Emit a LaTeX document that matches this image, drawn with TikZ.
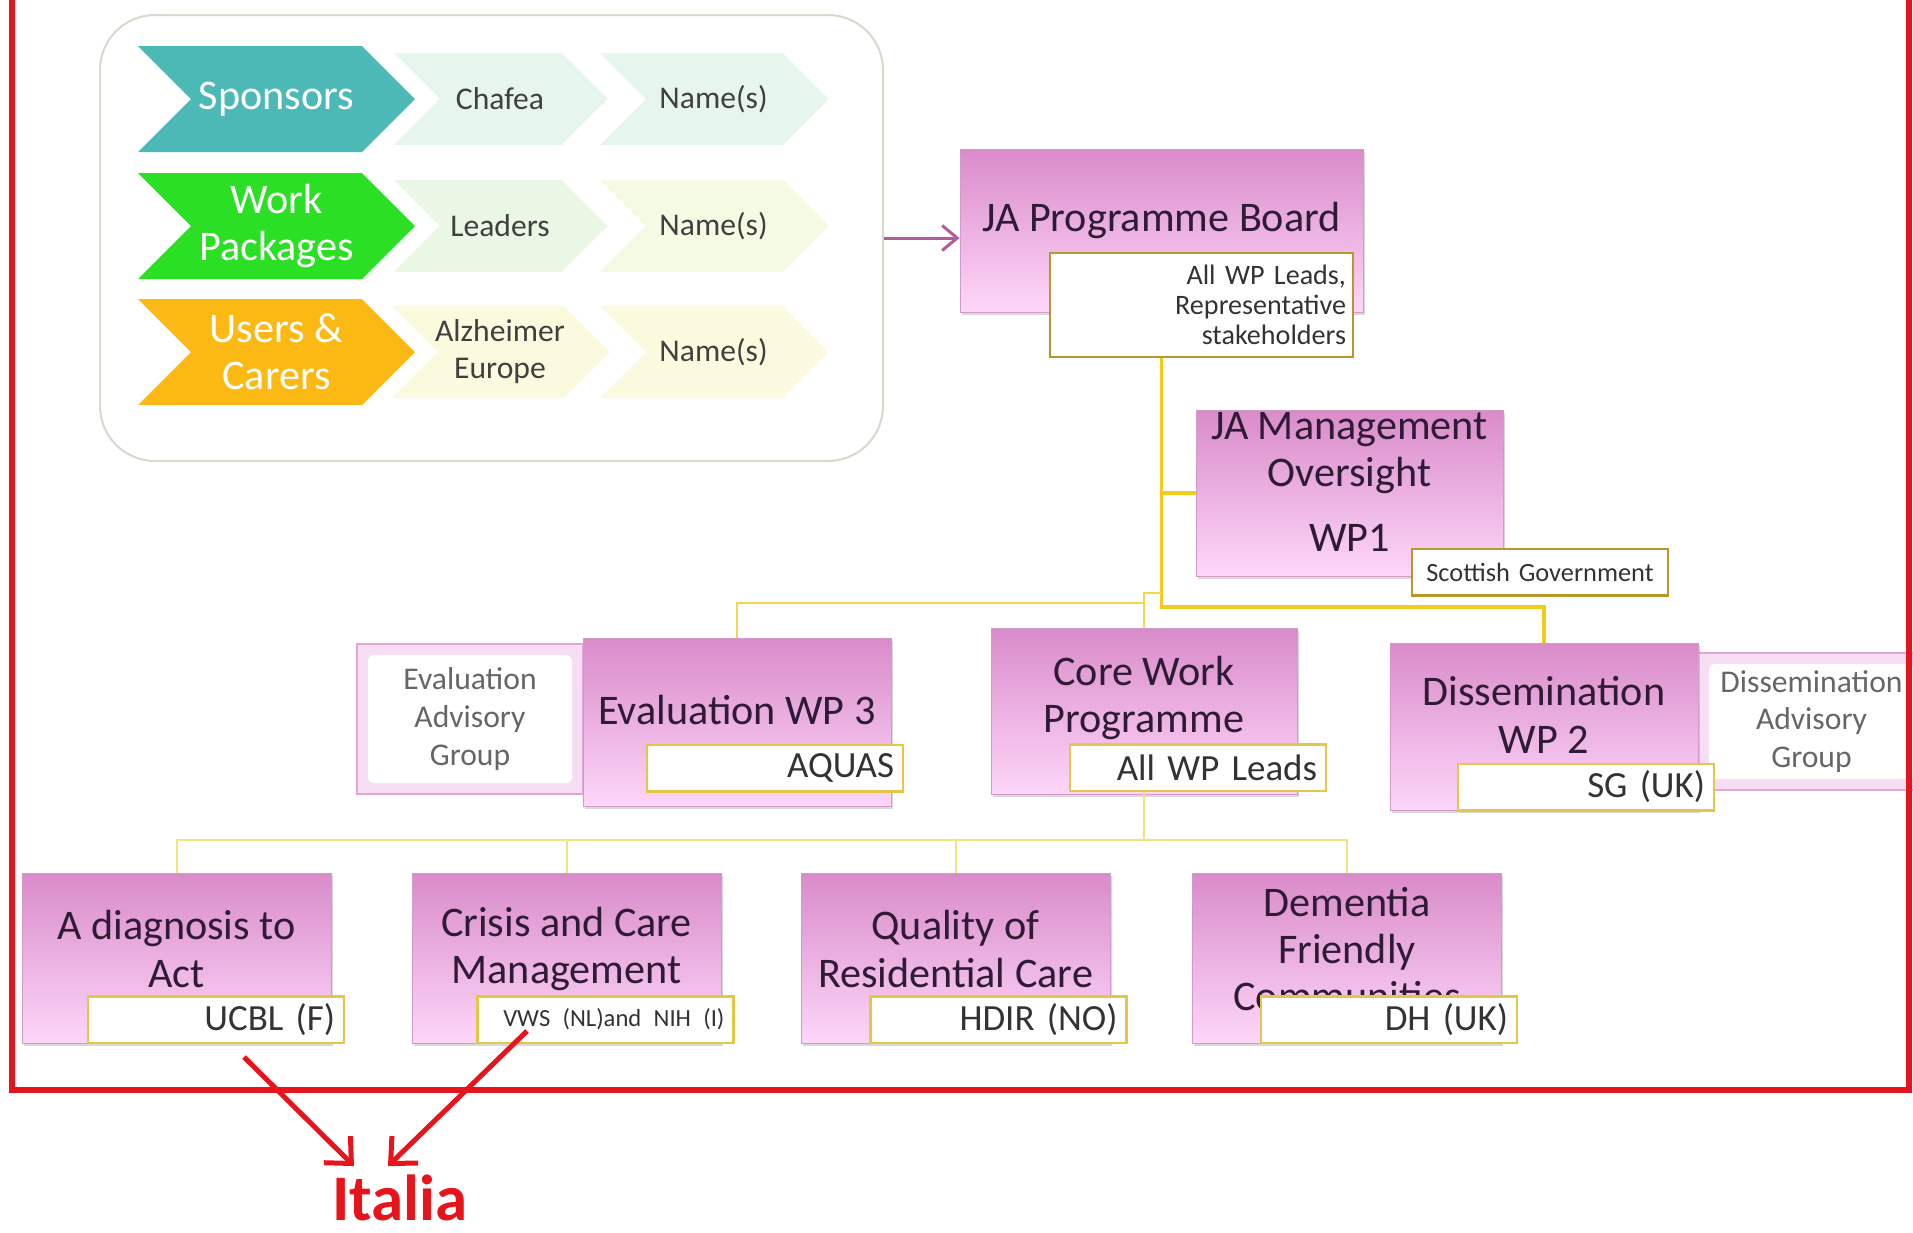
\documentclass[tikz,border=0pt]{standalone}
\usepackage{fontspec}
\setmainfont{Carlito}
\usetikzlibrary{
	arrows.meta,
	positioning,
	shadows,
	shapes.symbols
}

\definecolor{pinktop}{HTML}{D98BC9}
\definecolor{pinkbot}{HTML}{FDD6F9}
\definecolor{pinkedge}{HTML}{D29AC9}
\definecolor{leadedge}{HTML}{E6C646}
\definecolor{leaddark}{HTML}{B8982E}
\definecolor{linegold}{HTML}{F2CC18}
\definecolor{linelight}{HTML}{F3E37C}
\definecolor{titletext}{HTML}{2F1B35}
\definecolor{spteal}{HTML}{4CB9B7}
\definecolor{wpgreen}{HTML}{2BE024}
\definecolor{ucorange}{HTML}{FDB913}
\definecolor{chevA}{HTML}{E7F6EC}
\definecolor{chevB}{HTML}{EAF7E4}
\definecolor{chevC}{HTML}{F5FAE2}
\definecolor{chevD}{HTML}{FBF9DE}
\definecolor{legendgray}{HTML}{D8D8CC}
\definecolor{advband}{HTML}{F7DDF3}
\definecolor{advedge}{HTML}{DDA8D6}
\definecolor{framered}{HTML}{E8141B}
\definecolor{linkpurple}{HTML}{B25C9A}

\begin{document}
\begin{tikzpicture}[>=Stealth,
	wpbox/.style={rectangle, top color=pinktop, bottom color=pinkbot, draw=pinkedge, line width=0.02cm,
		drop shadow={opacity=0.3, shadow xshift=0.03cm, shadow yshift=-0.06cm}},
	title/.style={align=center, text=titletext, font=\fontsize{24}{27}\selectfont},
	lead/.style={rectangle, fill=white, draw=leadedge, line width=0.05cm, minimum width=5.12cm, minimum height=0.93cm,
		text width=4.76cm, inner xsep=0.18cm, align=right, text=black!80, font=\fontsize{21}{24}\selectfont},
	advbox/.style={rectangle, draw=advedge, line width=0.04cm, fill=advband, align=center, text=black!60,
		font=\fontsize{18}{21.5}\selectfont,
		path picture={\fill[white, rounded corners=0.12cm]
			([shift={(0.22,-0.22)}]path picture bounding box.north west) rectangle
			([shift={(-0.22,0.22)}]path picture bounding box.south east);}},
	bigchev/.style={signal, signal to=east, signal from=west, signal pointer angle=90, inner sep=0pt,
		minimum width=5.54cm, minimum height=2.12cm, text=white, align=center, font=\fontsize{24}{27}\selectfont},
	namechev/.style={signal, signal to=east, signal from=west, signal pointer angle=90, inner sep=0pt,
		minimum height=1.9cm, draw=white, line width=0.06cm, text=black!75, align=center,
		font=\fontsize{18}{21}\selectfont},
	trunk/.style={draw=linegold, line width=0.07cm},
	branch/.style={draw=linegold!80, line width=0.05cm},
	thinline/.style={draw=linelight, line width=0.04cm},
	redarrow/.style={draw=framered, line width=0.1cm, -{Straight Barb[length=0.4cm, width=0.75cm]}},
	linkarrow/.style={draw=linkpurple, line width=0.06cm, -{Straight Barb[length=0.3cm, width=0.5cm]}}
	]
	\useasboundingbox (0,0) rectangle (38.26,-24.64);
	
	% legend
	\node[draw=legendgray, fill=white, line width=0.04cm, rounded corners=1.1cm,
		minimum width=15.66cm, minimum height=8.92cm] (legend) at (9.83,-4.76) {};
	
	\node[namechev, fill=chevA, minimum width=4.7cm] (sp-name) at (14.27,-1.98) {Name(s)};
	\node[namechev, fill=chevA, minimum width=4.4cm] (sp-who) at (10.0,-1.98) {Chafea};
	\node[bigchev, fill=spteal] (sponsors) at (5.53,-1.98) {Sponsors};
	
	\node[namechev, fill=chevC, minimum width=4.7cm] (wp-name) at (14.27,-4.52) {Name(s)};
	\node[namechev, fill=chevB, minimum width=4.4cm] (wp-who) at (10.0,-4.52) {Leaders};
	\node[bigchev, fill=wpgreen] (packages) at (5.53,-4.52) {Work\\Packages};
	
	\node[namechev, fill=chevD, minimum width=4.7cm] (uc-name) at (14.27,-7.04) {Name(s)};
	\node[namechev, fill=chevD, minimum width=4.4cm] (uc-who) at (10.0,-7.04) {Alzheimer\\Europe};
	\node[bigchev, fill=ucorange] (carers) at (5.53,-7.04) {Users \&\\Carers};
	
	% board and management
	\node[wpbox, minimum width=8.06cm, minimum height=3.26cm] (board) at (23.23,-4.61) {};
	\node[title] (board-t) at (23.23,-4.4) {JA Programme Board};
	\node[lead, draw=leaddark, minimum width=6.06cm, minimum height=2.08cm, text width=5.78cm, inner xsep=0.14cm,
		font=\fontsize{16}{17}\selectfont] (boardlead) at (24.03,-6.1) {All WP Leads,\\Representative\\stakeholders};
	
	\node[wpbox, minimum width=6.14cm, minimum height=3.32cm] (mgmt) at (26.99,-9.86) {};
	\node[title] (mgmt-t) at (26.99,-9.64) {JA Management\\Oversight\\[0.35cm]WP1};
	\node[lead, draw=leaddark, align=center, text width=4.9cm, inner xsep=0.1cm,
		font=\fontsize{15}{17}\selectfont] (mgmtlead) at (30.8,-11.44) {Scottish Government};
	
	% middle row
	\node[advbox, minimum width=4.52cm, minimum height=3.0cm] (evaladv) at (9.4,-14.38) {Evaluation\\Advisory\\Group};
	\node[wpbox, minimum width=6.16cm, minimum height=3.36cm] (eval) at (14.74,-14.44) {};
	\node[title] (eval-t) at (14.74,-14.2) {Evaluation WP 3};
	\node[lead] (evallead) at (15.5,-15.36) {AQUAS};
	
	\node[wpbox, minimum width=6.12cm, minimum height=3.32cm] (core) at (22.88,-14.22) {};
	\node[title] (core-t) at (22.88,-13.96) {Core Work\\Programme};
	\node[lead] (corelead) at (23.96,-15.35) {All WP Leads};
	
	\node[advbox, minimum width=4.54cm, minimum height=2.74cm] (dissadv) at (36.23,-14.43) {Dissemination\\Advisory\\Group};
	\node[wpbox, minimum width=6.16cm, minimum height=3.34cm] (diss) at (30.88,-14.53) {};
	\node[title] (diss-t) at (30.88,-14.3) {Dissemination\\WP 2};
	\node[lead] (disslead) at (31.72,-15.74) {SG (UK)};
	
	% connectors between the upper levels
	\coordinate (fork) at (23.23,-12.14);
	\coordinate (corejog) at (22.88,-11.86);
	\coordinate (evalbar) at (0,-12.06);
	\coordinate (wpbar) at (0,-16.8);
	\draw[linkarrow] (legend.east) -- (legend.east -| board.west);
	\draw[trunk] (board.center |- boardlead.south) -- (fork) -| (diss.north);
	\draw[trunk] (mgmt.west -| fork) -- (mgmt.west);
	\draw[branch] (core.north) -- (core.north |- corejog) -- (corejog -| fork);
	\draw[branch] (eval.north) |- (core.north |- evalbar);
	\draw[thinline] (corelead.south -| core.north) -- (core.north |- wpbar);
	
	% work packages
	\foreach \cx/\lx/\id/\txt/\who in {
		3.53/4.32/diag/{A diagnosis to\\Act}/{UCBL (F)},
		11.33/12.11/crisis/{Crisis and Care\\Management}/{\fontsize{14}{16}\selectfont VWS (NL)and NIH (I)},
		19.11/19.97/quality/{Quality of\\Residential Care}/{HDIR (NO)},
		26.94/27.78/dementia/{Dementia\\Friendly\\Communities}/{DH (UK)}}
	{
		\node[wpbox, minimum width=6.18cm, minimum height=3.4cm] (\id) at (\cx,-19.16) {};
		\node[title] (\id-t) at (\cx,-18.98) {\txt};
		\node[lead] (\id-lead) at (\lx,-20.39) {\who};
		\draw[thinline] (\id.north) |- (core.north |- wpbar);
	}
	
	% frame and the two arrows below it
	\node[anchor=base, inner sep=0pt, text=framered, font=\bfseries\fontsize{37}{40}\selectfont] (italia) at (8.0,-24.4) {Italia};
	\coordinate (fromdiag) at (4.88,-21.14);
	\coordinate (fromcrisis) at (10.54,-20.62);
	\draw[redarrow] (fromdiag) -- ([shift={(-0.92,0.16)}]italia.north);
	\draw[redarrow] (fromcrisis) -- ([shift={(-0.24,0.16)}]italia.north);
	\draw[framered, line width=0.12cm] (0.24,0.5) -- (0.24,-21.8) -- (38.18,-21.8) -- (38.18,0.5);
	
\end{tikzpicture}
\end{document}
